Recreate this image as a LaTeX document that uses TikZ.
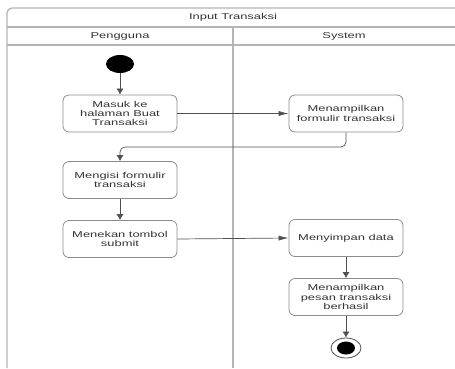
\documentclass[tikz,border=0pt]{standalone}
\usepackage{fontspec}
\setmainfont{Liberation Sans}[FakeStretch=1.52]
\usetikzlibrary{arrows.meta,shapes.geometric}
\definecolor{frameC}{HTML}{B4B4B4}
\definecolor{boxC}{HTML}{8C8C8C}
\definecolor{lineC}{HTML}{505050}
\definecolor{txtC}{HTML}{333333}
\begin{document}
\begin{tikzpicture}[x=1pt,y=-1pt,
  act/.style={draw=boxC,line width=0.8pt,rounded corners=6pt,minimum width=114pt,
    minimum height=37pt,align=center,inner sep=1pt,text=txtC,
    font=\fontsize{8.5}{9.2}\selectfont},
  lbl/.style={text=txtC,font=\fontsize{8.5}{9.2}\selectfont,inner sep=0pt},
  frm/.style={draw=frameC,line width=1.3pt},
  conn/.style={draw=lineC,line width=0.7pt},
  harr/.style={conn,-{Latex[length=10pt,width=5pt]}},
  varr/.style={conn,-{Latex[length=6pt,width=7pt]}}]
\useasboundingbox (0,0) rectangle (455,368);
% frame
\draw[frm,rounded corners=5pt] (7,368) -- (7,8) -- (455,8);
\draw[frm] (7,27) -- (455,27);
\draw[frm] (7,45) -- (455,45);
\draw[frm] (233,27) -- (233,368);
\node[lbl] (title) at (233,17.5) {Input Transaksi};
\node[lbl] (lane1) at (120,36) {Pengguna};
\node[lbl] (lane2) at (344,36) {System};
% nodes
\node[fill=black,ellipse,minimum width=28pt,minimum height=18pt,inner sep=0pt] (start) at (120,64) {};
\node[act] (b1) at (120,113.5) {Masuk ke\\halaman Buat\\Transaksi};
\node[act] (b2) at (120,180) {Mengisi formulir\\transaksi};
\node[act] (b3) at (120,239) {Menekan tombol\\submit};
\node[act] (s1) at (346,113.5) {Menampilkan\\formulir transaksi};
\node[act] (s2) at (346,238) {Menyimpan data};
\node[act] (s3) at (346,297) {Menampilkan\\pesan transaksi\\berhasil};
\node[draw=lineC,line width=0.8pt,ellipse,minimum width=30pt,minimum height=20pt,inner sep=0pt] (end) at (346,348) {};
\node[fill=black,ellipse,minimum width=18pt,minimum height=13pt,inner sep=0pt] (endin) at (346,348) {};
\coordinate (c1) at (346,147);
\coordinate (c2) at (120,147);
% connectors
\draw[varr] (start) -- (b1);
\draw[harr] (b1) -- (s1);
\draw[varr,rounded corners=5pt] (s1.south) -- (c1) -- (c2) -- (b2.north);
\draw[varr] (b2) -- (b3);
\draw[harr] (b3.east) -- (s2.west);
\draw[varr] (s2) -- (s3);
\draw[varr] (s3) -- (end);
\end{tikzpicture}
\end{document}
